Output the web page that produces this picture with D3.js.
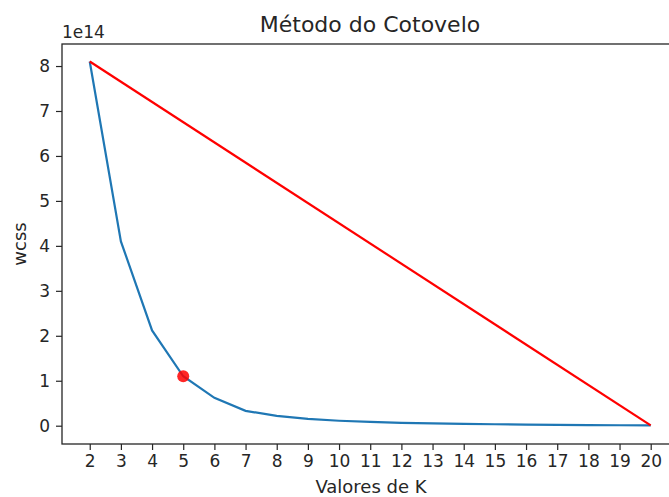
<!DOCTYPE html>
<html>
<head>
<meta charset="utf-8">
<script src="https://cdn.jsdelivr.net/npm/d3@7"></script>
<style>
  body { margin: 0; background: #fff; }
  text { font-family: "DejaVu Sans", sans-serif; fill: #262626; }
</style>
</head>
<body>
<div id="chart"></div>
<script>
// Elbow method: WCSS for each K
var kValues = [2, 3, 4, 5, 6, 7, 8, 9, 10, 11, 12, 13, 14, 15, 16, 17, 18, 19, 20];
var wcss = [8.1e14, 4.1e14, 2.12e14, 1.1e14, 0.62e14, 0.33e14, 0.22e14, 0.15e14, 0.11e14,
            0.085e14, 0.065e14, 0.05e14, 0.04e14, 0.032e14, 0.025e14, 0.02e14, 0.015e14, 0.01e14, 0.006e14];
var yTicks = [0, 1, 2, 3, 4, 5, 6, 7, 8];
var elbowK = 5;

var svgWidth = 669;
var svgHeight = 497;
var margin = { top: 44, left: 62 };
var width = 618;
var height = 400;

var svg = d3.select("#chart")
    .append("svg")
    .attr("width", svgWidth)
    .attr("height", svgHeight);

var chartGroup = svg.append("g")
    .attr("transform", `translate(${margin.left}, ${margin.top})`);

var xScale = d3.scaleLinear()
    .domain([1.11, 20.94])
    .range([0, width]);
var yScale = d3.scaleLinear()
    .domain([-0.407e14, 8.49e14])
    .range([height, 0]);

// axes
var bottomAxis = d3.axisBottom(xScale).tickValues(kValues).tickSize(6).tickPadding(5);
var leftAxis = d3.axisLeft(yScale).tickValues(yTicks.map(d => d * 1e14))
    .tickFormat(d => Math.round(d / 1e14)).tickSize(6).tickPadding(6);

var xAxisG = chartGroup.append("g")
    .attr("transform", `translate(0, ${height})`)
    .call(bottomAxis);
var yAxisG = chartGroup.append("g").call(leftAxis);

[xAxisG, yAxisG].forEach(function (g) {
    g.select(".domain").remove();
    g.selectAll("line").attr("stroke", "#262626").attr("stroke-width", 1.2);
    g.selectAll("text").style("font-size", "17px").attr("fill", "#262626");
});

// frame (right edge falls outside the page)
chartGroup.append("rect")
    .attr("width", width)
    .attr("height", height)
    .attr("fill", "none")
    .attr("stroke", "#262626")
    .attr("stroke-width", 1.3);

// wcss curve
var line = d3.line()
    .x((d, i) => xScale(kValues[i]))
    .y(d => yScale(d));

chartGroup.append("path")
    .datum(wcss)
    .attr("d", line)
    .attr("fill", "none")
    .attr("stroke", "#1f77b4")
    .attr("stroke-width", 2.2);

// straight line from first to last point
var n = kValues.length - 1;
chartGroup.append("line")
    .attr("x1", xScale(kValues[0]))
    .attr("y1", yScale(wcss[0]))
    .attr("x2", xScale(kValues[n]))
    .attr("y2", yScale(wcss[n]))
    .attr("stroke", "red")
    .attr("stroke-width", 2.2);

// elbow point
var ei = kValues.indexOf(elbowK);
chartGroup.append("circle")
    .attr("cx", xScale(kValues[ei]))
    .attr("cy", yScale(wcss[ei]))
    .attr("r", 6)
    .attr("fill", "red")
    .attr("opacity", 0.85);

// labels
svg.append("text")
    .attr("x", margin.left + 308)
    .attr("y", 32)
    .attr("text-anchor", "middle")
    .style("font-size", "22px")
    .text("Método do Cotovelo");

svg.append("text")
    .attr("x", margin.left)
    .attr("y", 38)
    .style("font-size", "17px")
    .text("1e14");

svg.append("text")
    .attr("x", margin.left + 309)
    .attr("y", 493)
    .attr("text-anchor", "middle")
    .style("font-size", "18px")
    .text("Valores de K");

svg.append("text")
    .attr("transform", `translate(26, ${margin.top + height / 2}) rotate(-90)`)
    .attr("text-anchor", "middle")
    .style("font-size", "18px")
    .text("wcss");
</script>
</body>
</html>
